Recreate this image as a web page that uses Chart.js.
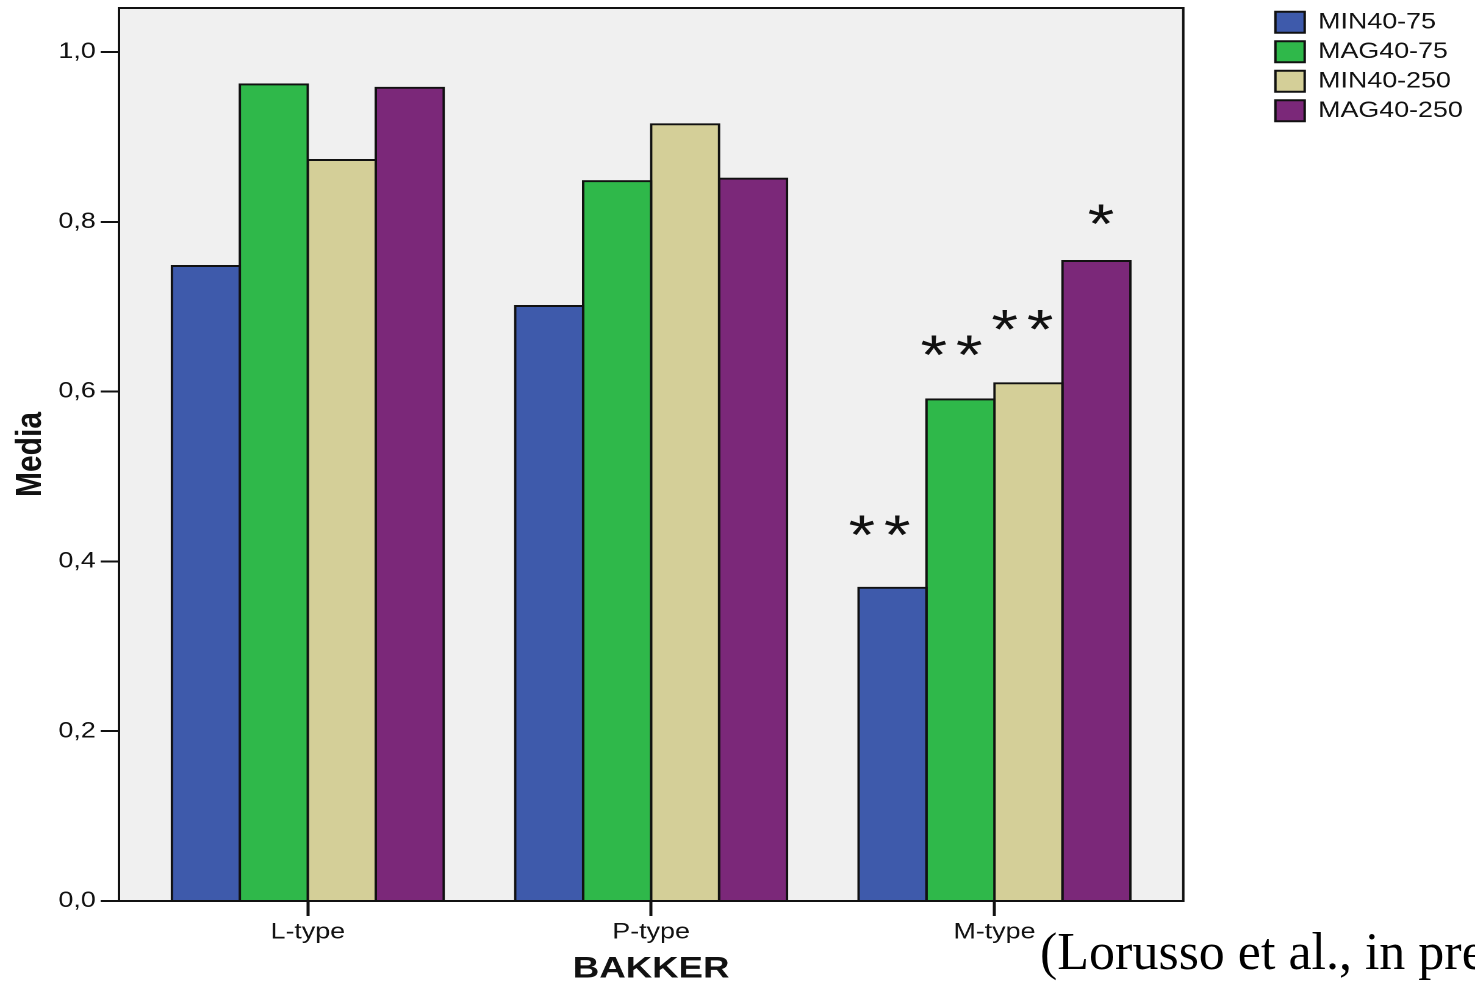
<!DOCTYPE html>
<html>
<head>
<meta charset="utf-8">
<title>BAKKER – Media</title>
<script src="https://cdn.jsdelivr.net/npm/chart.js@4/dist/chart.umd.min.js"></script>
<style>
  html, body { margin: 0; padding: 0; background: #fff; overflow: hidden; width: 1475px; height: 983px; }
  /* the chart is laid out at 1209px and widened to the full 1475px page */
  #plotBox { position: absolute; left: 0; top: 0; width: 1209px; height: 983px;
             transform: scaleX(1.22002); transform-origin: 0 0; }
  #cite { position: absolute; left: 1040px; top: 926px; white-space: nowrap; color: #000;
          font: 52px 'Liberation Serif', 'Times New Roman', serif; line-height: 51px; }
</style>
</head>
<body>
<div id="plotBox"><canvas id="chart"></canvas></div>
<div id="cite">(Lorusso et al., in press)</div>
<script>
// ---- data ----------------------------------------------------------------
const categories = ['L-type', 'P-type', 'M-type'];
const seriesNames = ['MIN40-75', 'MAG40-75', 'MIN40-250', 'MAG40-250'];
const min4075  = [0.748, 0.701, 0.369];
const mag4075  = [0.962, 0.848, 0.591];
const min40250 = [0.873, 0.915, 0.610];
const mag40250 = [0.958, 0.851, 0.754];
const seriesValues = [min4075, mag4075, min40250, mag40250];

// significance stars over the M-type group, one string per series
const starText = ['**', '**', '**', '*'];

// ---- styling -------------------------------------------------------------
const FONT = "'Liberation Sans', Arial, Helvetica, sans-serif";
const INK = '#111111';
const seriesColors = ['#3e5aab', '#2fb84a', '#d4cf98', '#7b2879'];

// where the stars sit: bar group index, height (axis units), sideways nudge (px)
const starLayout = {
  group: 2,
  level: [0.442, 0.654, 0.684, 0.808],
  shift: [-11, -7.7, -5.3, 3.3],
  gap: 29,
  size: 56
};

// light grey plot panel with a black frame
const panelPlugin = {
  id: 'panel',
  beforeDatasetsDraw(chart) {
    const {ctx, chartArea: a} = chart;
    ctx.save();
    ctx.fillStyle = '#f0f0f0';
    ctx.fillRect(a.left, a.top, a.right - a.left, a.bottom - a.top);
    ctx.restore();
  },
  afterDatasetsDraw(chart) {
    const {ctx, chartArea: a} = chart;
    ctx.save();
    ctx.strokeStyle = INK;
    ctx.lineWidth = 2;
    ctx.strokeRect(a.left, a.top, a.right - a.left, a.bottom - a.top);
    ctx.restore();
  }
};

// asterisks above the bars
const starPlugin = {
  id: 'stars',
  afterDatasetsDraw(chart) {
    const {ctx} = chart;
    const yScale = chart.scales.y;
    ctx.save();
    ctx.fillStyle = INK;
    ctx.font = starLayout.size + 'px ' + FONT;
    ctx.textAlign = 'left';
    ctx.textBaseline = 'alphabetic';
    const m = ctx.measureText('*');
    const dx = (m.actualBoundingBoxRight - m.actualBoundingBoxLeft) / 2;
    const dy = (m.actualBoundingBoxAscent - m.actualBoundingBoxDescent) / 2;
    starText.forEach((txt, k) => {
      const bar = chart.getDatasetMeta(k).data[starLayout.group];
      if (!bar) return;
      const cx = bar.x + starLayout.shift[k];
      const cy = yScale.getPixelForValue(starLayout.level[k]);
      const n = txt.length;
      for (let j = 0; j < n; j++) {
        const sx = cx + (j - (n - 1) / 2) * starLayout.gap;
        ctx.fillText('*', sx - dx, cy + dy);
      }
    });
    ctx.restore();
  }
};

const datasets = seriesValues.map((vals, k) => ({
  label: seriesNames[k],
  data: vals.map((v, i) => ({x: i, y: v})),
  backgroundColor: seriesColors[k],
  borderColor: INK,
  borderWidth: 2,
  borderSkipped: 'start',
  inflateAmount: 1,
  categoryPercentage: 0.792,
  barPercentage: 1
}));

new Chart(document.getElementById('chart'), {
  type: 'bar',
  data: {datasets},
  plugins: [panelPlugin, starPlugin],
  options: {
    responsive: true,
    maintainAspectRatio: false,
    devicePixelRatio: 2,
    animation: false,
    events: [],
    layout: {padding: {top: 3.7, left: 0, right: 0, bottom: 0}},
    plugins: {
      legend: {
        position: 'right',
        align: 'start',
        labels: {
          boxWidth: 24,
          boxHeight: 21,
          padding: 7.5,
          color: INK,
          font: {family: FONT, size: 22}
        }
      },
      tooltip: {enabled: false}
    },
    scales: {
      x: {
        type: 'linear',
        min: -0.55,
        max: 2.55,
        offset: false,
        grid: {display: true, drawOnChartArea: false, drawTicks: true, offset: false,
               tickLength: 15, tickWidth: 2.5, tickColor: INK},
        border: {display: false},
        ticks: {
          stepSize: 1,
          includeBounds: false,
          autoSkip: false,
          maxRotation: 0,
          padding: 3,
          color: INK,
          font: {family: FONT, size: 22},
          callback: v => (categories[v] !== undefined ? categories[v] : '')
        },
        title: {display: true, text: 'BAKKER', color: INK, padding: 0,
                font: {family: FONT, size: 30, weight: 'bold', lineHeight: '28px'}},
        afterFit: s => { s.height = 82; s.paddingLeft = 0; s.paddingRight = 0; }
      },
      y: {
        min: 0,
        max: 1.052,
        grid: {display: true, drawOnChartArea: false, drawTicks: true,
               tickLength: 15, tickWidth: 2, tickColor: INK},
        border: {display: false},
        ticks: {
          stepSize: 0.2,
          includeBounds: false,
          padding: 4,
          color: INK,
          font: {family: FONT, size: 22},
          callback: v => v.toFixed(1).replace('.', ',')
        },
        title: {display: true, text: 'Media', color: INK, padding: {top: 7, bottom: 0},
                font: {family: FONT, size: 30, weight: 'bold'}},
        afterFit: s => { s.width = 97.5; s.paddingTop = 8; s.paddingBottom = 0; }
      },
      gap: {
        type: 'linear',
        position: 'right',
        display: true,
        grid: {display: false},
        border: {display: false},
        ticks: {display: false},
        afterFit: s => { s.width = 68; s.paddingTop = 0; s.paddingBottom = 0; }
      }
    }
  }
});
</script>
</body>
</html>
